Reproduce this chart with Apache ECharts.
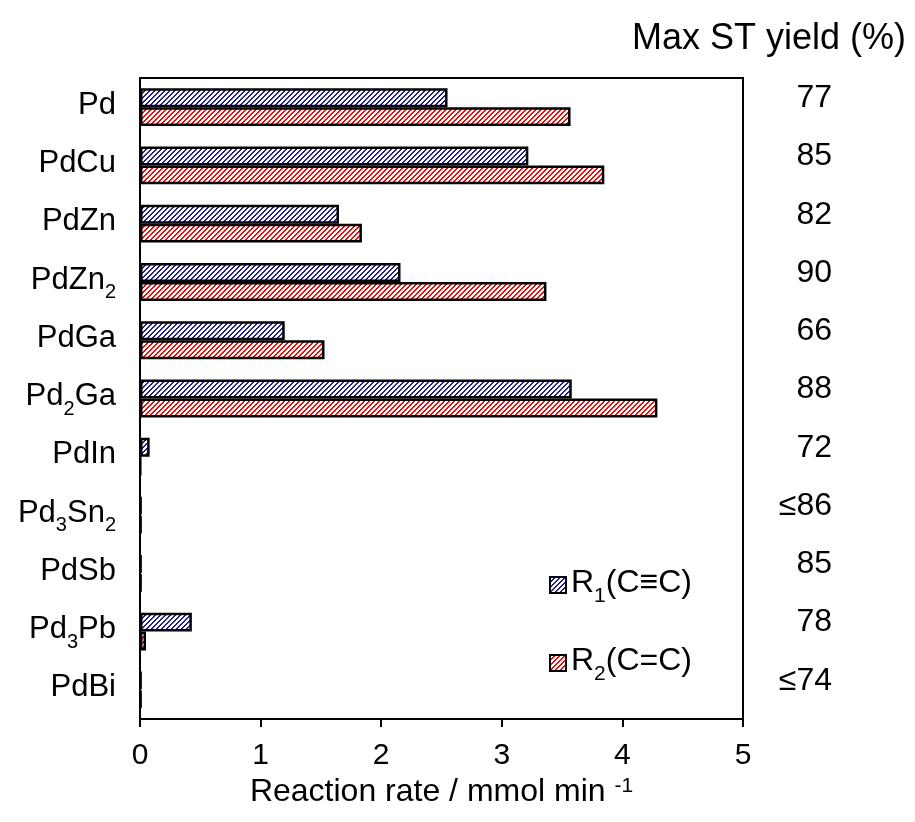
<!DOCTYPE html>
<html>
<head>
<meta charset="utf-8">
<script src="https://cdn.jsdelivr.net/npm/echarts@6/dist/echarts.min.js"></script>
<style>html,body{margin:0;padding:0;background:#fff}#c{width:915px;height:822px}</style>
</head>
<body>
<div id="c"></div>
<script>
const categories = ['Pd','PdCu','PdZn','PdZn2','PdGa','Pd2Ga','PdIn','Pd3Sn2','PdSb','Pd3Pb','PdBi'];
const r1Values = [2.55,3.22,1.65,2.16,1.20,3.58,0.08,0.01,0.01,0.43,0.01];
const r2Values = [3.57,3.85,1.84,3.37,1.53,4.29,0.005,0.01,0.01,0.05,0.01];
const maxYield = ['77','85','82','90','66','88','72','≤86','85','78','≤74'];
const seriesNames = ['R1(C≡C)','R2(C=C)'];
const xMin = 0, xMax = 5, xInterval = 1;

const FONT = '"Liberation Sans", Arial, sans-serif';

function hatch(color){
  const p = 5;
  const c = document.createElement('canvas');
  c.width = p; c.height = p;
  const ctx = c.getContext('2d');
  ctx.fillStyle = '#fff'; ctx.fillRect(0,0,p,p);
  ctx.fillStyle = color;
  for (let y = 0; y < p; y++) {
    const x = (p - 1 - y);
    ctx.fillRect(x, y, 1, 1);
    ctx.fillRect((x + 1) % p, y, 1, 1);
  }
  return {image: c, repeat: 'repeat'};
}

function subRich(s){
  return s.split(/(\d+)/).filter(t => t.length).map(t => /^\d+$/.test(t) ? '{s|' + t + '}' : '{m|' + t + '}').join('');
}
function richStyle(size){
  return {
    m: {fontSize: size, fontFamily: FONT, color: '#000', lineHeight: Math.round(size*1.13), verticalAlign: 'top'},
    s: {fontSize: Math.round(size*0.66), fontFamily: FONT, color: '#000', lineHeight: Math.round(size*0.66), verticalAlign: 'top', padding: [Math.round(size*0.58),0,0,0]}
  };
}

const chart = echarts.init(document.getElementById('c'));
chart.setOption({
  backgroundColor: '#fff',
  animation: false,
  title: {
    text: 'Max ST yield (%)',
    right: 4, top: 16,
    textStyle: {fontFamily: FONT, fontSize: 36, fontWeight: 'normal', color: '#000'}
  },
  legend: {
    orient: 'vertical',
    left: 544, top: 562,
    itemWidth: 16, itemHeight: 16,
    itemGap: 38,
    icon: 'rect',
    formatter: n => subRich(n),
    textStyle: {rich: richStyle(32)}
  },
  grid: {left: 140, right: 172, top: 78, bottom: 103, show: true, borderColor: '#000', borderWidth: 2, containLabel: false},
  xAxis: {
    type: 'value', min: xMin, max: xMax, interval: xInterval,
    axisLine: {show: true, lineStyle: {color: '#000', width: 2}},
    axisTick: {show: true, inside: false, length: 8, lineStyle: {color: '#000', width: 2}},
    splitLine: {show: false},
    axisLabel: {fontFamily: FONT, fontSize: 30, color: '#000', margin: 22},
    name: '{m|Reaction rate / mmol min }{p|-1}',
    nameLocation: 'middle', nameGap: 42,
    nameTextStyle: {
      rich: {
        m: {fontFamily: FONT, fontSize: 32, color: '#000', lineHeight: 36, verticalAlign: 'top'},
        p: {fontFamily: FONT, fontSize: 21, color: '#000', lineHeight: 21, verticalAlign: 'top'}
      }
    }
  },
  yAxis: [{
    type: 'category', data: categories, inverse: true,
    axisLine: {show: true, lineStyle: {color: '#000', width: 2}},
    axisTick: {show: false},
    axisLabel: {margin: 24, formatter: v => subRich(v), rich: richStyle(31)}
  }, {
    type: 'category', data: categories, inverse: true, position: 'right',
    axisLine: {show: true, lineStyle: {color: '#000', width: 2}},
    axisTick: {show: false},
    axisLabel: {margin: 89, align: 'right', fontFamily: FONT, fontSize: 32, color: '#000',
      verticalAlign: 'bottom', lineHeight: 18,
      formatter: (v, i) => maxYield[i]}
  }],
  series: [{
    name: seriesNames[0], type: 'bar', data: r1Values,
    barCategoryGap: '35%', barGap: '0%',
    itemStyle: {color: hatch('#1f1f8f'), borderColor: '#000', borderWidth: 2.5}
  }, {
    name: seriesNames[1], type: 'bar', data: r2Values,
    barCategoryGap: '35%', barGap: '0%',
    itemStyle: {color: hatch('#ff0000'), borderColor: '#000', borderWidth: 2.5}
  }]
});
</script>
</body>
</html>
